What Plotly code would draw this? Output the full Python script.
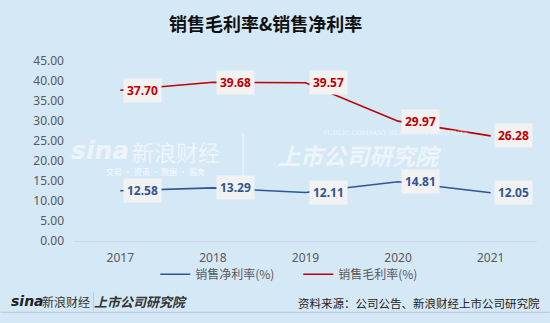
import plotly.graph_objects as go

# Data
years = ["2017", "2018", "2019", "2020", "2021"]
net_margin = [12.58, 13.29, 12.11, 14.81, 12.05]      # 销售净利率(%)
gross_margin = [37.70, 39.68, 39.57, 29.97, 26.28]    # 销售毛利率(%)
y_ticks = [0, 5, 10, 15, 20, 25, 30, 35, 40, 45]

W, H = 550, 323
L, R, T, B = 73.6, 537.4, 60.7, 240.7

BG = "#D5E8F6"
RED = "#C00000"
BLUE = "#2F5597"
GRAY = "#595959"
CJK = "Noto Sans CJK SC"


def px(x):
    return (x - L) / (R - L)


def py(y):
    return (B - y) / (B - T)


fig = go.Figure()
fig.add_trace(go.Scatter(
    x=years, y=net_margin, name="销售净利率(%)", mode="lines",
    line=dict(color=BLUE, width=1.6), hoverinfo="skip"))
fig.add_trace(go.Scatter(
    x=years, y=gross_margin, name="销售毛利率(%)", mode="lines",
    line=dict(color=RED, width=1.6), hoverinfo="skip"))

annotations = []

# Watermark
wm = "rgba(255,255,255,0.6)"
annotations += [
    dict(x=px(100), y=py(150), text="<b><i>sina</i></b>", font=dict(size=25, color=wm, family="DejaVu Sans")),
    dict(x=px(176), y=py(151), text="新浪财经", font=dict(size=22, color=wm, family=CJK)),
    dict(x=px(155), y=py(171), text="<b>交易 · 资讯 · 数据 · 服务</b>", font=dict(size=8, color=wm, family=CJK)),
    dict(x=px(360), y=py(155), text="<b><i>上市公司研究院</i></b>", font=dict(size=23, color=wm, family=CJK)),
    dict(x=px(396), y=py(133), text="PUBLIC COMPANY RESEARCH INSTITUTE", font=dict(size=6.5, color=wm, family="DejaVu Serif")),
]
for a in annotations:
    a.update(xref="paper", yref="paper", showarrow=False, xanchor="center", yanchor="middle",
             borderpad=0)

# Value labels, placed on each point through the category axis
for series, color in ((gross_margin, RED), (net_margin, BLUE)):
    for i, v in enumerate(series):
        annotations.append(dict(
            x=i, y=v, xref="x", yref="y", text=f"<b>{v:.2f}</b>",
            showarrow=False, xanchor="left", yanchor="middle", xshift=3,
            bgcolor="#F2F2F2", borderpad=3,
            font=dict(size=12, color=color, family="Noto Sans")))

# Title
annotations.append(dict(
    x=px(265), y=py(23), xref="paper", yref="paper", xanchor="center", yanchor="middle",
    text="<b>销售毛利率&销售净利率</b>", showarrow=False,
    font=dict(size=18, color="#111111", family=CJK)))

# Footer
foot = [
    dict(x=px(27), y=py(301), text="<b><i>sina</i></b>", font=dict(size=14, color="#222222", family="DejaVu Sans")),
    dict(x=px(66), y=py(301), text="新浪财经", font=dict(size=12, color="#333333", family=CJK)),
    dict(x=px(140), y=py(301), text="<b><i>上市公司研究院</i></b>", font=dict(size=13, color="#333333", family=CJK)),
    dict(x=px(542), y=py(303), text="资料来源：公司公告、新浪财经上市公司研究院", xanchor="right",
         font=dict(size=11.5, color="#222222", family=CJK)),
]
for a in foot:
    a.update(xref="paper", yref="paper", showarrow=False, yanchor="middle")
    a.setdefault("xanchor", "center")
annotations += foot

shapes = [
    # watermark divider
    dict(type="line", xref="paper", yref="paper", x0=px(243), x1=px(243), y0=py(133), y1=py(180),
         line=dict(color="rgba(255,255,255,0.6)", width=1.2)),
    # footer divider and rule
    dict(type="line", xref="paper", yref="paper", x0=px(93), x1=px(93), y0=py(292), y1=py(310),
         line=dict(color="#B8C8D6", width=1)),
    dict(type="line", xref="paper", yref="paper", x0=px(0), x1=px(550), y0=py(312), y1=py(312),
         line=dict(color="#B4C6D6", width=1)),
]

fig.update_layout(
    width=W, height=H,
    margin=dict(l=L, r=W - R, t=T, b=H - B, pad=0),
    paper_bgcolor=BG, plot_bgcolor=BG,
    showlegend=True,
    legend=dict(orientation="h", x=px(155), y=py(274), xanchor="left", yanchor="middle",
                font=dict(size=12, color=GRAY, family=CJK), bgcolor="rgba(0,0,0,0)",
                entrywidth=98, entrywidthmode="pixels", itemwidth=30),
    xaxis=dict(type="category", categoryorder="array", categoryarray=years,
               range=[-0.5, len(years) - 0.5], showgrid=False, zeroline=False, showline=True,
               linecolor="#C9D9E5", linewidth=1, ticks="",
               tickfont=dict(size=12, color=GRAY, family="Noto Sans"), ticklabelstandoff=6,
               fixedrange=True),
    yaxis=dict(range=[0, 45], tickvals=y_ticks, tickformat=".2f", showgrid=False,
               zeroline=False, showline=False, ticks="",
               tickfont=dict(size=12, color=GRAY, family="Noto Sans"), ticklabelstandoff=9,
               fixedrange=True),
    annotations=annotations,
    shapes=shapes,
)

fig.write_html("out.html", config=dict(displayModeBar=False))
